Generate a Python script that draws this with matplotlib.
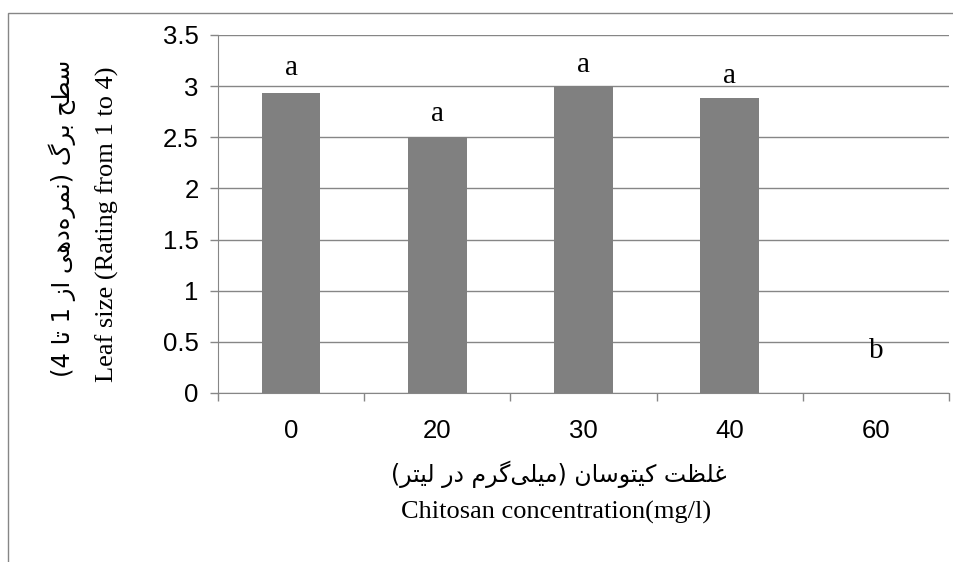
import numpy as np
import matplotlib
matplotlib.use('Agg')
import matplotlib.pyplot as plt
from matplotlib.patches import Rectangle

conc = ['0', '20', '30', '40', '60']
leaf_size = [2.93, 2.5, 3.0, 2.88, 0]
groups = ['a', 'a', 'a', 'a', 'b']
group_y = [3.11, 2.66, 3.14, 3.03, 0.34]

xlabel_fa = 'غلظت کیتوسان (میلی\u200cگرم در لیتر)'
xlabel_en = 'Chitosan concentration(mg/l)'
ylabel_fa = 'سطح برگ (نمره\u200cدهی از 1 تا 4)'
ylabel_en = 'Leaf size (Rating from 1 to 4)'

# arabic presentation forms: isolated, final, initial, medial
FORMS = {
    'ا': ('\uFE8D', '\uFE8E'),
    'ب': ('\uFE8F', '\uFE90', '\uFE91', '\uFE92'),
    'ت': ('\uFE95', '\uFE96', '\uFE97', '\uFE98'),
    'ح': ('\uFEA1', '\uFEA2', '\uFEA3', '\uFEA4'),
    'د': ('\uFEA9', '\uFEAA'),
    'ر': ('\uFEAD', '\uFEAE'),
    'ز': ('\uFEAF', '\uFEB0'),
    'س': ('\uFEB1', '\uFEB2', '\uFEB3', '\uFEB4'),
    'ط': ('\uFEC1', '\uFEC2', '\uFEC3', '\uFEC4'),
    'ظ': ('\uFEC5', '\uFEC6', '\uFEC7', '\uFEC8'),
    'غ': ('\uFECD', '\uFECE', '\uFECF', '\uFED0'),
    'ل': ('\uFEDD', '\uFEDE', '\uFEDF', '\uFEE0'),
    'م': ('\uFEE1', '\uFEE2', '\uFEE3', '\uFEE4'),
    'ن': ('\uFEE5', '\uFEE6', '\uFEE7', '\uFEE8'),
    'ه': ('\uFEE9', '\uFEEA', '\uFEEB', '\uFEEC'),
    'و': ('\uFEED', '\uFEEE'),
    'ی': ('\uFBFC', '\uFBFD', '\uFBFE', '\uFBFF'),
    'ک': ('\uFB8E', '\uFB8F', '\uFB90', '\uFB91'),
    'گ': ('\uFB92', '\uFB93', '\uFB94', '\uFB95'),
}


def farsi(s):
    # shape letters and turn into left-to-right visual order
    out = []
    for i, ch in enumerate(s):
        if ch not in FORMS:
            if ch != '\u200c':
                out.append(ch)
            continue
        prev = s[i - 1] if i > 0 else ''
        nxt = s[i + 1] if i + 1 < len(s) else ''
        jp = prev in FORMS and len(FORMS[prev]) == 4
        jn = len(FORMS[ch]) == 4 and nxt in FORMS
        f = FORMS[ch]
        if jp and jn:
            out.append(f[3])
        elif jp:
            out.append(f[1])
        elif jn:
            out.append(f[2])
        else:
            out.append(f[0])
    vis = ''.join(reversed(out))
    return vis.translate(str.maketrans('()', ')('))


grey = '#868686'
fig = plt.figure(figsize=(9.54, 5.62), dpi=100)
fig.patches.append(Rectangle((8.5 / 954, -0.5), 2, 1.5 - 13 / 562, transform=fig.transFigure,
                             fill=False, edgecolor=grey, lw=1))

ax = fig.add_axes([218 / 954, 1 - 393 / 562, 731 / 954, 358 / 562])
x = np.arange(len(conc))
ax.bar(x, leaf_size, width=0.4, color='#808080', zorder=2)
ax.set_xlim(-0.5, len(conc) - 0.5)
ax.set_ylim(0, 3.5)

yt = np.arange(0, 3.51, 0.5)
ax.set_yticks(yt)
ax.set_yticklabels(['%g' % v for v in yt], family='Liberation Sans', fontsize=18.5)
ax.yaxis.grid(True, color=grey, lw=1)
ax.set_axisbelow(True)

ax.set_xticks(np.arange(-0.5, len(conc), 1))
ax.set_xticklabels([])
ax.set_xticks(x, minor=True)
ax.set_xticklabels(conc, minor=True, family='Liberation Sans', fontsize=18.5)
ax.tick_params(axis='x', which='major', length=5.8, width=1, color=grey)
ax.tick_params(axis='x', which='minor', length=0, pad=19)
ax.tick_params(axis='y', length=5.8, width=1, color=grey, pad=8)

for s in ['top', 'right']:
    ax.spines[s].set_visible(False)
for s in ['left', 'bottom']:
    ax.spines[s].set_color(grey)

for xi, g, gy in zip(x, groups, group_y):
    ax.text(xi, gy, g, ha='center', va='baseline', family='Liberation Serif', fontsize=21)

fig.text(62 / 954, 1 - 218 / 562, farsi(ylabel_fa), rotation=90, ha='center', va='center',
         family='DejaVu Sans', fontsize=17.5)
fig.text(107 / 954, 1 - 224 / 562, ylabel_en, rotation=90, ha='center', va='center',
         family='Liberation Serif', fontsize=19)
fig.text(559 / 954, 1 - 474 / 562, farsi(xlabel_fa), ha='center', va='center',
         family='DejaVu Sans', fontsize=17)
fig.text(556 / 954, 1 - 512 / 562, xlabel_en, ha='center', va='center',
         family='Liberation Serif', fontsize=19)

fig.savefig('out.png', dpi=100)
